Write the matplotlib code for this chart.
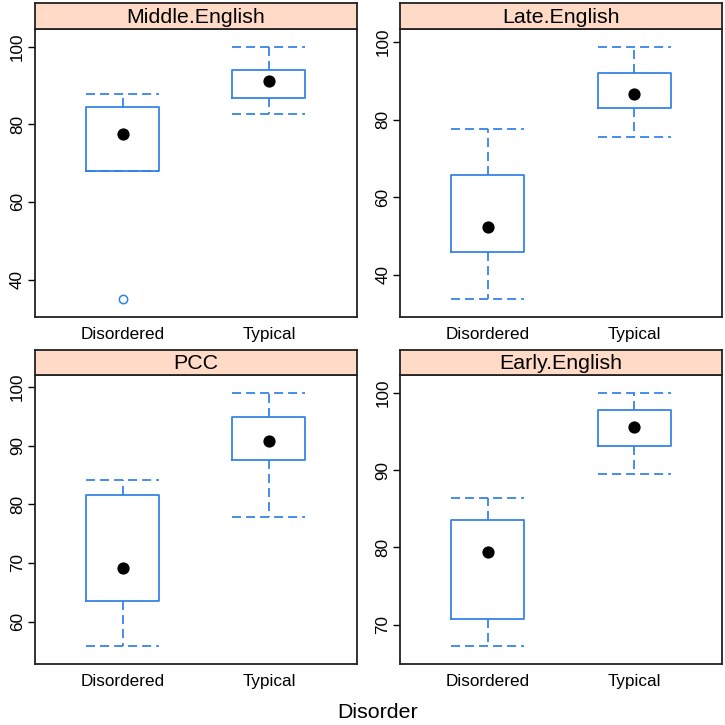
import matplotlib
matplotlib.use("Agg")
import matplotlib.pyplot as plt
import numpy as np

plt.rcParams['font.family'] = ['Liberation Sans', 'DejaVu Sans']
plt.rcParams['lines.scale_dashes'] = False

panels = ["Middle.English", "Late.English", "PCC", "Early.English"]
groups = ["Disordered", "Typical"]

# per panel: [Disordered, Typical]
whislo = [[67.9, 82.75], [33.6, 75.4], [55.8, 77.9], [67.2, 89.55]]
q1     = [[67.9, 86.9], [45.8, 82.9], [63.5, 87.6], [70.7, 93.07]]
med    = [[77.5, 91.25], [52.25, 86.7], [69.1, 90.8], [79.35, 95.6]]
q3     = [[84.55, 93.9], [65.8, 92.0], [81.6, 94.9], [83.6, 97.75]]
whishi = [[87.9, 100.0], [77.5, 98.8], [84.2, 99.0], [86.44, 100.0]]
fliers = [[[34.9], []], [[], []], [[], []], [[], []]]

yticks = [[40, 60, 80, 100], [40, 60, 80, 100], [60, 70, 80, 90, 100], [70, 80, 90, 100]]

BLUE = "#2f80e8"
STRIP = "#ffdac6"

W, H = 725, 725
fig = plt.figure(figsize=(7.25, 7.25), dpi=100)

lefts = [34.7, 400, 34.7, 400]
tops = [29, 29, 375, 375]
heights = [288, 288, 289, 289]
strip_h = [26, 26, 25, 25]
width = 322

def fr(l, t, w, h):
    return [l / W, (H - t - h) / H, w / W, h / H]

dash = (6.5, 3.6)
LW = 1.25

for i, name in enumerate(panels):
    ax = fig.add_axes(fr(lefts[i], tops[i], width, heights[i]))
    stats = []
    for j, g in enumerate(groups):
        stats.append(dict(label=g, whislo=whislo[i][j], q1=q1[i][j], med=med[i][j],
                          q3=q3[i][j], whishi=whishi[i][j], fliers=fliers[i][j]))
    ax.bxp(stats, positions=[1, 2], widths=0.5, capwidths=0.5,
           boxprops=dict(color=BLUE, linewidth=LW),
           whiskerprops=dict(color=BLUE, linewidth=LW, linestyle=(0, dash)),
           capprops=dict(color=BLUE, linewidth=LW, linestyle=(0, dash)),
           medianprops=dict(linestyle='none'),
           flierprops=dict(marker='o', markerfacecolor='none', markeredgecolor=BLUE,
                           markersize=6, markeredgewidth=1.1),
           zorder=2)
    ax.plot([1, 2], med[i], 'o', color='black', markersize=7.8, zorder=3)
    allv = [whislo[i][0], whislo[i][1], whishi[i][0], whishi[i][1]] + fliers[i][0] + fliers[i][1]
    lo, hi = min(allv), max(allv)
    pad = 0.07 * (hi - lo)
    ax.set_ylim(lo - pad, hi + pad)
    ax.set_xlim(0.4, 2.6)
    ax.set_xticks([1, 2])
    ax.set_xticklabels(groups, fontsize=12.3)
    ax.tick_params(axis='x', length=0, pad=7)
    ax.set_yticks(yticks[i])
    ax.set_yticklabels([str(v) for v in yticks[i]], fontsize=12.3, rotation=90, va='center')
    ax.tick_params(axis='y', length=5, width=1.0, pad=2, direction='out')
    for s in ax.spines.values():
        s.set_linewidth(1.3)
        s.set_color('#222222')

    sax = fig.add_axes(fr(lefts[i], tops[i] - strip_h[i], width, strip_h[i]))
    sax.set_facecolor(STRIP)
    sax.set_xticks([])
    sax.set_yticks([])
    for s in sax.spines.values():
        s.set_linewidth(1.3)
        s.set_color('#222222')
    sax.text(0.5, 0.45, name, ha='center', va='center', fontsize=15.4, transform=sax.transAxes)

fig.text(378 / W, 1 - 713 / H, "Disorder", ha='center', va='center', fontsize=15.4)

fig.savefig("out.png", dpi=100, facecolor='white')
